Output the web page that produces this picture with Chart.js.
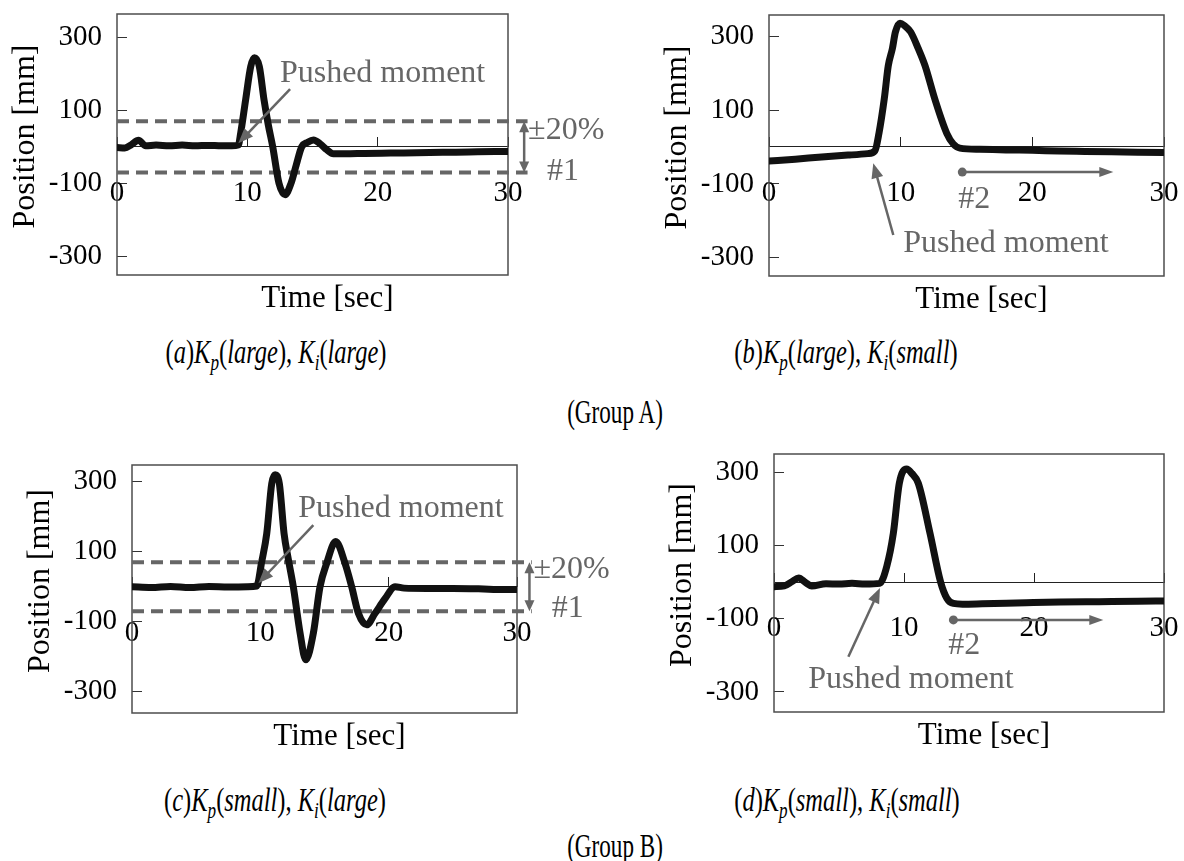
<!DOCTYPE html>
<html>
<head>
<meta charset="utf-8">
<script src="https://cdn.jsdelivr.net/npm/chart.js@4.4.0/dist/chart.umd.min.js"></script>
<style>
  body { margin: 0; background: #fff; }
  #page { position: relative; width: 1184px; height: 861px; overflow: hidden;
          font-family: 'Liberation Serif', 'Times New Roman', serif; }
  canvas { position: absolute; }
  .cap { position: absolute; font-size: 34px; white-space: nowrap; color: #000;
         transform: translate(-50%, -50%) scaleX(0.72); }
  .cap.grp { transform: translate(-50%, -50%) scaleX(0.68); }
  .cap .s { font-size: 70%; font-style: italic; position: relative; top: 0.3em; }
</style>
</head>
<body>
<div id="page">
  <canvas id="cA"></canvas>
  <canvas id="cB"></canvas>
  <canvas id="cC"></canvas>
  <canvas id="cD"></canvas>
  <div class="cap" style="left:276px;top:352px">(<i>a</i>)<i>K</i><span class="s">p</span>(<i>large</i>), <i>K</i><span class="s">i</span>(<i>large</i>)</div>
  <div class="cap" style="left:846px;top:352px">(<i>b</i>)<i>K</i><span class="s">p</span>(<i>large</i>), <i>K</i><span class="s">i</span>(<i>small</i>)</div>
  <div class="cap grp" style="left:615px;top:412px">(Group A)</div>
  <div class="cap" style="left:275px;top:800px">(<i>c</i>)<i>K</i><span class="s">p</span>(<i>small</i>), <i>K</i><span class="s">i</span>(<i>large</i>)</div>
  <div class="cap" style="left:847px;top:800px">(<i>d</i>)<i>K</i><span class="s">p</span>(<i>small</i>), <i>K</i><span class="s">i</span>(<i>small</i>)</div>
  <div class="cap grp" style="left:615px;top:846px">(Group B)</div>
</div>
<script>
// tick labels, shared by all four plots
const xTicks = [0, 10, 20, 30];
const yTicks = [-300, -100, 100, 300];
// ±20% limits drawn in (a) and (c)
const bandLimits = [70, -70];

// (a) Kp large, Ki large
const timeA = [0, 0.6, 1.1, 1.65, 2.2, 3, 4, 5, 6, 7, 8, 8.8, 9.31, 9.5, 9.87, 10.26, 10.54, 10.92, 11.28, 11.6,
  11.95, 12.43, 12.9, 13.35, 13.75, 14.17, 14.6, 15.07, 15.6, 16.1, 16.6, 17.5, 19, 21, 23, 25, 27, 29, 30];
const posA = [-2, -3, 6, 18, 3, 5, 3, 5, 3, 4, 3, 3, 5, 40, 129, 220, 244, 220, 129, 62,
  0, -100, -131, -100, -50, 0, 12, 19, 8, -8, -19, -19, -18, -17, -16, -15, -14, -13, -13];

// (b) Kp large, Ki small
const timeB = [0, 2, 4, 6, 7.5, 8.05, 8.35, 8.75, 9.06, 9.37, 9.6, 9.95, 10.3, 10.76, 11.34, 11.85, 12.6, 13.5,
  14.0, 14.5, 16, 18, 20, 22, 24, 26, 28, 30];
const posB = [-38, -33, -27, -22, -18, -10, 37, 129, 220, 266, 311, 335, 328, 311, 266, 220, 129, 37,
  8, -3, -6, -8, -9, -11, -12, -13, -14, -15];

// (c) Kp small, Ki large
const timeC = [0, 1.5, 3, 4.5, 6, 7.5, 9, 9.72, 10.1, 10.5, 10.89, 11.15, 11.48, 11.85, 12.2, 12.57, 13.1, 13.54,
  14.13, 14.65, 15.17, 15.87, 16.6, 17.12, 17.64, 18.29, 18.94, 19.7, 20.5, 21.2, 23, 25, 27, 29, 30];
const posC = [0, -2, 1, -2, 1, -1, 0, 2, 70, 152, 295, 320, 295, 152, 75, 0, -133, -209,
  -133, 0, 67, 129, 67, 0, -76, -109, -76, -35, 0, -4, -5, -5, -6, -8, -8];

// (d) Kp small, Ki small
const timeD = [0, 0.8, 1.4, 1.9, 2.4, 2.9, 4, 5, 6, 7, 8.13, 8.67, 9.18, 9.64, 10.2, 10.6, 11.1, 12.0, 12.82,
  13.3, 13.8, 14.5, 16, 19.4, 22, 25, 28, 30];
const posD = [-12, -10, 2, 12, 0, -10, -4, -5, -3, -5, -3, 43, 134, 271, 310, 298, 271, 134, 0,
  -44, -58, -60, -59, -56, -54, -53, -52, -51];

const serif = "'Liberation Serif', 'Times New Roman', serif";
const grey = '#666';

// where each plot sits on the page and what is written on it
const panels = [
  { id: 'cA', left: 0, top: 0, w: 640, h: 330, yw: 117, pad: [14, 132, 55], ymin: -351, ymax: 364,
    time: timeA, pos: posA, bandEnd: 31.5,
    texts: [['Pushed moment', 12.5, 178], ['±20%', 31.54, 22], ['#1', 33.0, -90]],
    arrows: [[13.28, 158, 9.31, 10]], bracket: 31.24 },
  { id: 'cB', left: 640, top: 0, w: 544, h: 330, yw: 129, pad: [15, 20, 54], ymin: -349, ymax: 357,
    time: timeB, pos: posB,
    texts: [['Pushed moment', 10.2, -283], ['#2', 14.37, -165]],
    arrows: [[9.44, -238, 7.92, -44]], settle: [14.68, 26.15, -68] },
  { id: 'cC', left: 0, top: 440, w: 640, h: 330, yw: 132, pad: [25, 123, 57], ymin: -361, ymax: 348,
    time: timeC, pos: posC, bandEnd: 31.15,
    texts: [['Pushed moment', 12.96, 200], ['±20%', 31.28, 24], ['#1', 32.7, -86]],
    arrows: [[14.13, 176, 9.85, 10]], bracket: 30.97 },
  { id: 'cD', left: 640, top: 440, w: 544, h: 330, yw: 134, pad: [14, 20, 58], ymin: -355, ymax: 351,
    time: timeD, pos: posD,
    texts: [['Pushed moment', 2.64, -288], ['#2', 13.4, -196]],
    arrows: [[5.72, -204, 8.15, -16]], settle: [13.8, 25.33, -103] }
];

function arrowHead(ctx, x1, y1, x2, y2, len, half) {
  const a = Math.atan2(y2 - y1, x2 - x1), c = Math.cos(a), s = Math.sin(a);
  ctx.beginPath();
  ctx.moveTo(x2, y2);
  ctx.lineTo(x2 - len * c + half * s, y2 - len * s - half * c);
  ctx.lineTo(x2 - len * c - half * s, y2 - len * s + half * c);
  ctx.closePath();
  ctx.fill();
}

function arrow(ctx, x1, y1, x2, y2, len, half) {
  const a = Math.atan2(y2 - y1, x2 - x1);
  ctx.beginPath();
  ctx.moveTo(x1, y1);
  ctx.lineTo(x2 - len * 0.8 * Math.cos(a), y2 - len * 0.8 * Math.sin(a));
  ctx.stroke();
  arrowHead(ctx, x1, y1, x2, y2, len, half);
}

const frame = {
  id: 'frame',
  beforeDatasetsDraw(chart) {
    const { ctx, chartArea: ca } = chart;
    ctx.save();
    ctx.strokeStyle = '#4d4d4d';
    ctx.lineWidth = 1.5;
    ctx.strokeRect(ca.left, ca.top, ca.right - ca.left, ca.bottom - ca.top);
    ctx.restore();
  }
};

function makeNotes(p) {
  return {
    id: 'notes',
    afterDatasetsDraw(chart) {
      const { ctx, scales: { x, y } } = chart;
      const px = t => x.getPixelForValue(t), py = v => y.getPixelForValue(v);
      ctx.save();
      ctx.fillStyle = grey;
      ctx.strokeStyle = grey;
      ctx.lineWidth = 2.5;
      ctx.font = '32px ' + serif;
      ctx.textBaseline = 'alphabetic';
      ctx.textAlign = 'left';
      p.texts.forEach(([s, t, v]) => ctx.fillText(s, px(t), py(v)));
      p.arrows.forEach(([t1, v1, t2, v2]) => arrow(ctx, px(t1), py(v1), px(t2), py(v2), 15, 6));
      if (p.bracket) {
        const bx = px(p.bracket), yt = py(bandLimits[0]), yb = py(bandLimits[1]);
        ctx.beginPath();
        ctx.moveTo(bx, yt + 8);
        ctx.lineTo(bx, yb - 8);
        ctx.stroke();
        arrowHead(ctx, bx, yb, bx, yt, 11, 5);
        arrowHead(ctx, bx, yt, bx, yb, 11, 5);
      }
      if (p.settle) {
        const [t1, t2, v] = p.settle;
        ctx.beginPath();
        ctx.arc(px(t1), py(v), 4.5, 0, Math.PI * 2);
        ctx.fill();
        arrow(ctx, px(t1), py(v), px(t2), py(v), 14, 5);
      }
      ctx.restore();
    },
    afterDraw(chart) {
      const { ctx, chartArea: ca } = chart;
      ctx.save();
      ctx.fillStyle = '#000';
      ctx.textAlign = 'center';
      ctx.font = '31px ' + serif;
      ctx.textBaseline = 'alphabetic';
      ctx.fillText('Time [sec]', (ca.left + ca.right) / 2 + 15, ca.bottom + 32);
      ctx.translate(ca.left - 91, (ca.top + ca.bottom) / 2 - 8);
      ctx.rotate(-Math.PI / 2);
      ctx.font = '32px ' + serif;
      ctx.textBaseline = 'middle';
      ctx.fillText('Position [mm]', 0, 0);
      ctx.restore();
    }
  };
}

panels.forEach(p => {
  const canvas = document.getElementById(p.id);
  canvas.width = p.w;
  canvas.height = p.h;
  canvas.style.left = p.left + 'px';
  canvas.style.top = p.top + 'px';

  const datasets = [{
    data: p.time.map((t, i) => ({ x: t, y: p.pos[i] })),
    borderColor: '#111', borderWidth: 7, pointRadius: 0,
    cubicInterpolationMode: 'monotone', borderCapStyle: 'round', borderJoinStyle: 'round'
  }];
  if (p.bandEnd) {
    bandLimits.forEach(lim => datasets.push({
      data: [{ x: 0, y: lim }, { x: p.bandEnd, y: lim }],
      borderColor: grey, borderWidth: 4, borderDash: [12, 7], pointRadius: 0, clip: false
    }));
  }

  new Chart(canvas, {
    type: 'line',
    data: { datasets },
    options: {
      responsive: false,
      animation: false,
      events: [],
      layout: { padding: { left: 0, top: p.pad[0], right: p.pad[1], bottom: p.pad[2] } },
      plugins: { legend: { display: false }, tooltip: { enabled: false } },
      scales: {
        x: {
          type: 'linear', min: 0, max: 30, position: { y: 0 },
          afterBuildTicks: s => { s.ticks = xTicks.map(v => ({ value: v })); },
          afterFit: s => { s.paddingLeft = 0; s.paddingRight = 0; },
          grid: { drawOnChartArea: false, tickLength: -10, color: '#222', tickWidth: 1 },
          border: { color: '#222', width: 1 },
          ticks: { padding: 39, color: '#000', maxRotation: 0, autoSkip: false, font: { family: serif, size: 29 } }
        },
        y: {
          min: p.ymin, max: p.ymax,
          afterBuildTicks: s => { s.ticks = yTicks.map(v => ({ value: v })); },
          afterFit: s => { s.width = p.yw; s.paddingTop = 0; s.paddingBottom = 0; },
          grid: { drawOnChartArea: false, tickLength: -10, color: '#333', tickWidth: 1 },
          border: { display: false },
          ticks: { padding: 25, color: '#000', font: { family: serif, size: 29 } }
        }
      }
    },
    plugins: [frame, makeNotes(p)]
  });
});
</script>
</body>
</html>
